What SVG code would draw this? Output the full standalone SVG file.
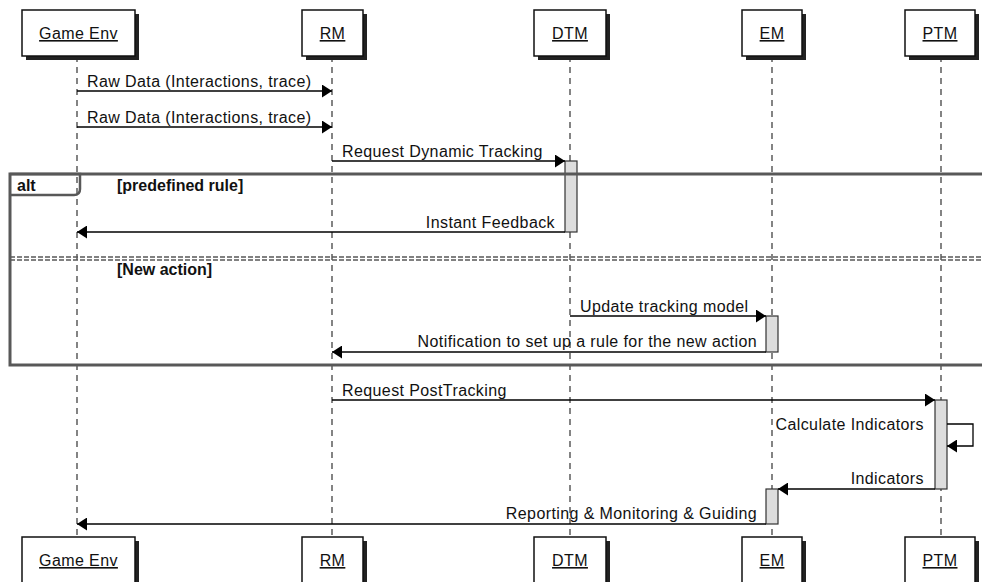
<svg xmlns="http://www.w3.org/2000/svg" width="982" height="582" viewBox="0 0 982 582">
<defs>
<marker id="ah" markerUnits="userSpaceOnUse" markerWidth="11" markerHeight="13" refX="10" refY="6.5" orient="auto">
<path d="M0,0 L10,6.5 L0,13 Z" fill="#000"/>
</marker>
<style>
text{font-family:"Liberation Sans",Arial,sans-serif;font-size:16px;letter-spacing:0.4px;fill:#111}
.box{fill:#fff;stroke:#111;stroke-width:1.5}
.sh{fill:#222}
.pl{text-decoration:underline;text-anchor:middle}
.life{stroke:#333;stroke-width:1.2;stroke-dasharray:6,5;fill:none}
.act{fill:#ddd;stroke:#333;stroke-width:1.2}
.msg{stroke:#000;stroke-width:1.3;fill:none;marker-end:url(#ah)}
.end{text-anchor:end}
.frame{fill:none;stroke:#585858;stroke-width:3}
.b{font-weight:bold;letter-spacing:0}
</style>
</defs>
<rect width="982" height="582" fill="#fff"/>
<g id="lifelines">
<line class="life" x1="77" y1="56" x2="77" y2="537"/>
<line class="life" x1="332" y1="56" x2="332" y2="537"/>
<line class="life" x1="570" y1="56" x2="570" y2="537"/>
<line class="life" x1="772" y1="56" x2="772" y2="537"/>
<line class="life" x1="941" y1="56" x2="941" y2="537"/>
</g>
<g id="p-gameenv">
<rect class="sh" x="26" y="14" width="113" height="46"/><rect class="box" x="22" y="10" width="113" height="46"/><text class="pl" x="78.5" y="39">Game Env</text>
<rect class="sh" x="26" y="541" width="113" height="46"/><rect class="box" x="22" y="537" width="113" height="46"/><text class="pl" x="78.5" y="566">Game Env</text>
</g>
<g id="p-rm">
<rect class="sh" x="306" y="14" width="61" height="46"/><rect class="box" x="302" y="10" width="61" height="46"/><text class="pl" x="332.5" y="39">RM</text>
<rect class="sh" x="306" y="541" width="61" height="46"/><rect class="box" x="302" y="537" width="61" height="46"/><text class="pl" x="332.5" y="566">RM</text>
</g>
<g id="p-dtm">
<rect class="sh" x="538" y="14" width="72" height="46"/><rect class="box" x="534" y="10" width="72" height="46"/><text class="pl" x="570" y="39">DTM</text>
<rect class="sh" x="538" y="541" width="72" height="46"/><rect class="box" x="534" y="537" width="72" height="46"/><text class="pl" x="570" y="566">DTM</text>
</g>
<g id="p-em">
<rect class="sh" x="746" y="14" width="60" height="46"/><rect class="box" x="742" y="10" width="60" height="46"/><text class="pl" x="772" y="39">EM</text>
<rect class="sh" x="746" y="541" width="60" height="46"/><rect class="box" x="742" y="537" width="60" height="46"/><text class="pl" x="772" y="566">EM</text>
</g>
<g id="p-ptm">
<rect class="sh" x="909" y="14" width="70" height="46"/><rect class="box" x="905" y="10" width="70" height="46"/><text class="pl" x="940" y="39">PTM</text>
<rect class="sh" x="909" y="541" width="70" height="46"/><rect class="box" x="905" y="537" width="70" height="46"/><text class="pl" x="940" y="566">PTM</text>
</g>
<g id="activations">
<rect class="act" x="565" y="161" width="12" height="71"/>
<rect class="act" x="766" y="316" width="12" height="36"/>
<rect class="act" x="935" y="400" width="12" height="89"/>
<rect class="act" x="766" y="489" width="12" height="35"/>
</g>
<g id="alt-frame">
<rect class="frame" x="10" y="174" width="990" height="191"/>
<path d="M10,174 H80 V189 Q80,195 74,195 H10" fill="none" stroke="#585858" stroke-width="2.5"/>
<text class="b" x="17" y="191">alt</text>
<text class="b" x="117" y="191">[predefined rule]</text>
<line x1="10" y1="257" x2="990" y2="257" stroke="#585858" stroke-width="1.6" stroke-dasharray="5,2"/>
<line x1="10" y1="260" x2="990" y2="260" stroke="#585858" stroke-width="1.6" stroke-dasharray="5,2"/>
<text class="b" x="117" y="275">[New action]</text>
</g>
<g id="connectors">
<line class="msg" x1="77" y1="91" x2="332" y2="91"/>
<text x="87" y="87">Raw Data (Interactions, trace)</text>
<line class="msg" x1="77" y1="127" x2="332" y2="127"/>
<text x="87" y="123">Raw Data (Interactions, trace)</text>
<line class="msg" x1="332" y1="161" x2="565" y2="161"/>
<text x="342" y="157">Request Dynamic Tracking</text>
<line class="msg" x1="565" y1="232" x2="77" y2="232"/>
<text class="end" x="555" y="228">Instant Feedback</text>
<line class="msg" x1="570" y1="316" x2="766" y2="316"/>
<text x="580" y="312">Update tracking model</text>
<line class="msg" x1="766" y1="352" x2="332" y2="352"/>
<text class="end" x="757" y="347">Notification to set up a rule for the new action</text>
<line class="msg" x1="332" y1="400" x2="935" y2="400"/>
<text x="342" y="396">Request PostTracking</text>
<path class="msg" d="M947,424 H973 V446 H947"/>
<text class="end" x="924" y="430">Calculate Indicators</text>
<line class="msg" x1="935" y1="489" x2="778" y2="489"/>
<text class="end" x="924" y="484">Indicators</text>
<line class="msg" x1="766" y1="524" x2="77" y2="524"/>
<text class="end" x="757" y="519">Reporting &amp; Monitoring &amp; Guiding</text>
</g>
</svg>
